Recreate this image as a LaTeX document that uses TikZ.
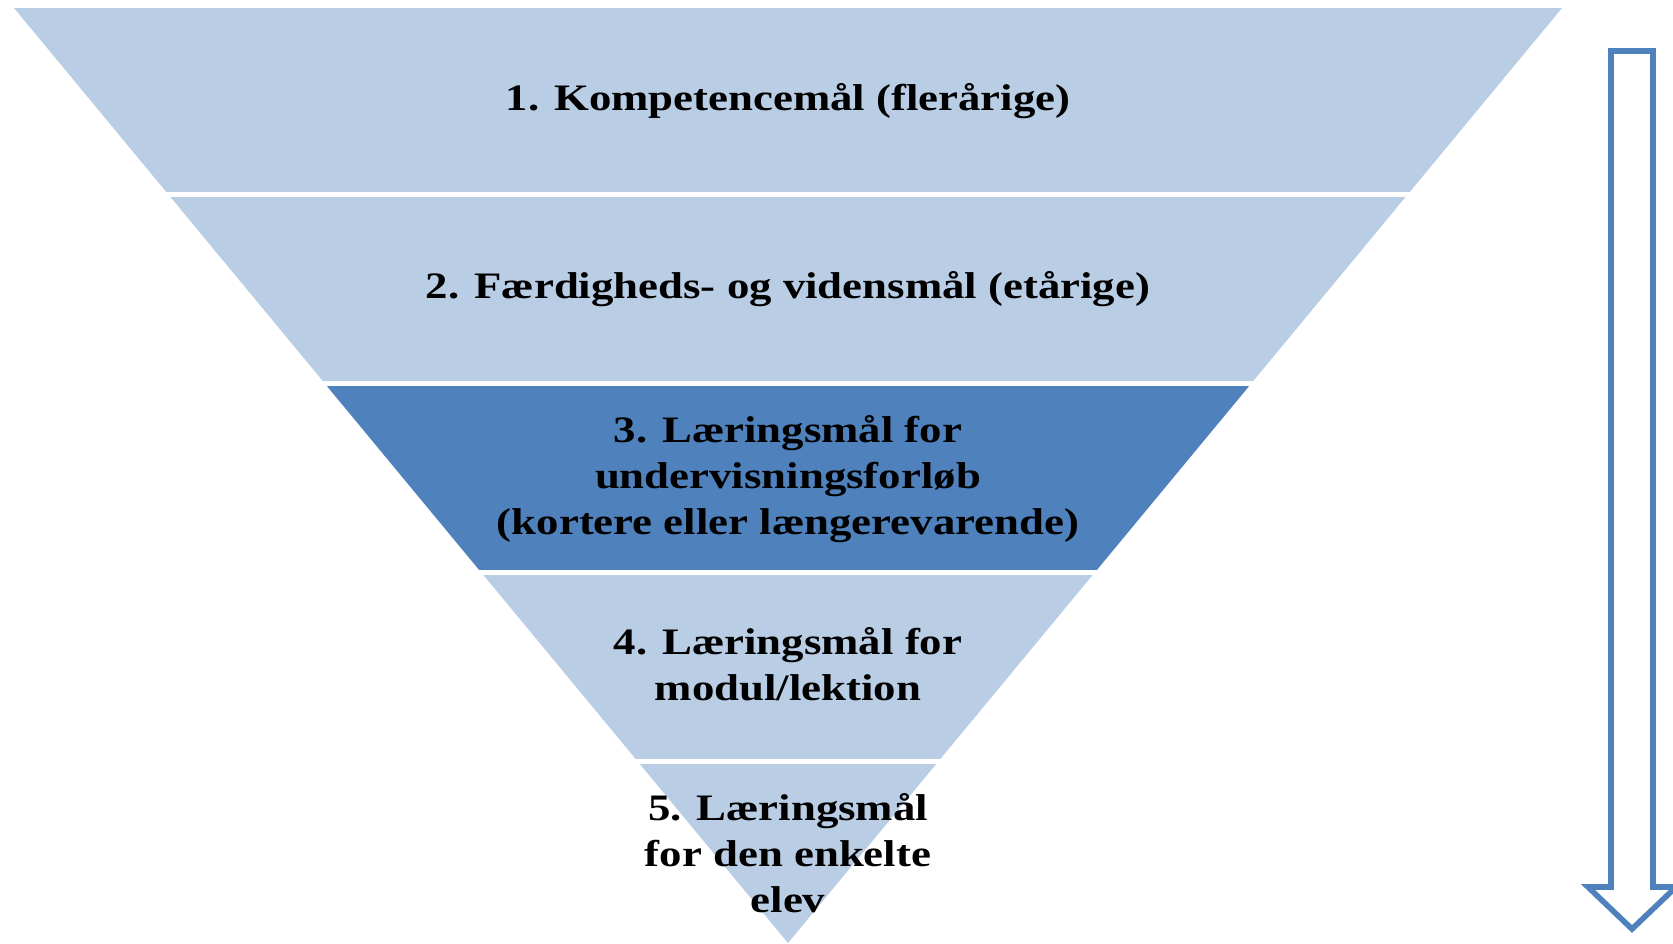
\documentclass[tikz,border=0pt]{standalone}
\usepackage{fontspec}
\setmainfont{Liberation Serif}[FakeStretch=1.2]
\definecolor{lightband}{HTML}{B9CDE5}
\definecolor{darkband}{HTML}{4F81BD}
\begin{document}
\begin{tikzpicture}[x=0.75pt,y=-0.75pt,
  lbl/.style={font=\bfseries\fontsize{28}{34.5}\selectfont, align=center, text=black, inner sep=0pt},
  gapline/.style={white, line width=3.75pt},
  arrowline/.style={darkband, line width=4.2pt, fill=white, line join=miter}]
\useasboundingbox (0,0) rectangle (1673,943);
\coordinate (TL) at (14,8);
\coordinate (TR) at (1562,8);
\coordinate (AP) at (788,943);
\fill[lightband] (TL) -- (TR) -- (AP) -- cycle;
\begin{scope}
  \clip (TL) -- (TR) -- (AP) -- cycle;
  \fill[darkband] (0,383.5) rectangle (1580,572);
\end{scope}
\foreach \yy in {194,383.5,572,761}
  \draw[gapline] (0,\yy) -- (1575,\yy);
\node[lbl] (b1) at (788,101) {1. Kompetencemål (flerårige)};
\node[lbl] (b2) at (788,289) {2. Færdigheds- og vidensmål (etårige)};
\node[lbl] (b3) at (788,479) {3. Læringsmål for\\undervisningsforløb\\(kortere eller længerevarende)};
\node[lbl] (b4) at (788,664) {4. Læringsmål for\\modul/lektion};
\node[lbl] (b5) at (788,853) {5. Læringsmål\\for den enkelte\\elev};
\draw[arrowline] (1611,51) -- (1653,51) -- (1653,887) -- (1676,887) -- (1632,929)
  -- (1588,887) -- (1611,887) -- cycle;
\end{tikzpicture}
\end{document}
